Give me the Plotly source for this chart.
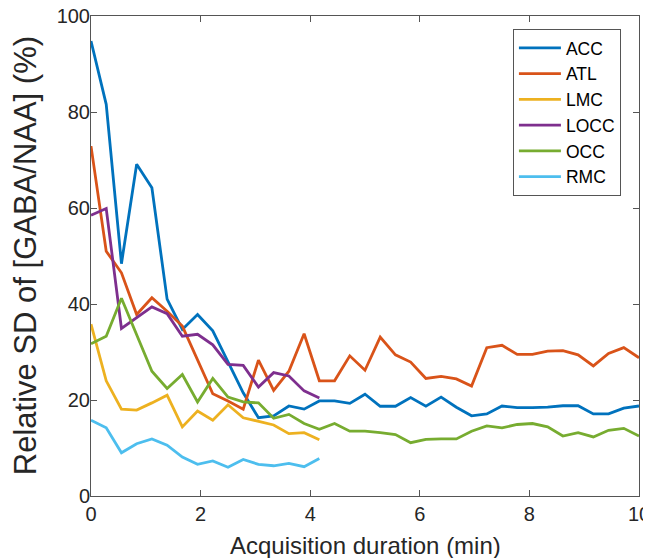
import plotly.graph_objects as go

step = 10 / 36
x_long = [round(i * step, 4) for i in range(37)]
x_short = x_long[:16]

acc = [94.8, 81.6, 48.4, 69.1, 64.2, 41.0, 34.7, 37.8, 34.4, 28.0, 21.5, 16.3, 16.7,
       18.75, 18.1, 19.8, 19.8, 19.3, 21.2, 18.7, 18.7, 20.5, 18.7, 20.6, 18.5, 16.7,
       17.1, 18.75, 18.4, 18.4, 18.5, 18.8, 18.8, 17.1, 17.1, 18.3, 18.75]
atl = [72.9, 51.0, 46.5, 37.8, 41.3, 38.5, 35.4, 28.3, 21.3, 19.8, 18.1, 28.3, 22.0,
       26.0, 33.8, 24.0, 24.0, 29.2, 26.2, 33.1, 29.4, 27.9, 24.5, 24.9, 24.4, 22.9,
       30.9, 31.4, 29.5, 29.5, 30.2, 30.3, 29.4, 27.1, 29.7, 30.9, 28.8]
lmc = [35.8, 24.0, 18.1, 17.9, 19.4, 21.0, 14.4, 17.7, 15.8, 19.0, 16.3, 15.5, 14.8,
       13.0, 13.2, 11.7]
locc = [58.5, 59.9, 34.9, 37.2, 39.4, 38.0, 33.3, 33.7, 31.5, 27.4, 27.2, 22.7, 25.7,
        25.0, 21.9, 20.4]
occ = [31.7, 33.3, 41.2, 33.7, 26.0, 22.4, 25.3, 19.6, 24.5, 20.6, 19.6, 19.4, 16.2,
       17.0, 15.1, 13.9, 15.1, 13.5, 13.5, 13.2, 12.8, 11.1, 11.8, 11.9, 11.9, 13.5,
       14.6, 14.2, 14.9, 15.1, 14.4, 12.5, 13.2, 12.3, 13.7, 14.1, 12.5]
rmc = [15.8, 14.2, 9.0, 10.9, 11.9, 10.6, 8.1, 6.6, 7.3, 6.0, 7.6, 6.6, 6.3,
       6.8, 6.1, 7.8]

x_title = "Acquisition duration (min)"
y_title = "Relative SD of [GABA/NAA] (%)"

series = [
    ("ACC", x_long, acc, "#0072BD"),
    ("ATL", x_long, atl, "#D95319"),
    ("LMC", x_short, lmc, "#EDB120"),
    ("LOCC", x_short, locc, "#7E2F8E"),
    ("OCC", x_long, occ, "#77AC30"),
    ("RMC", x_short, rmc, "#4DBEEE"),
]

fig = go.Figure()
for name, xs, ys, col in series:
    fig.add_trace(go.Scatter(x=xs, y=ys, mode="lines", name=name,
                             line=dict(color=col, width=2.8)))

FONT = "Liberation Sans, Arial"
axis_common = dict(
    showline=True, linecolor="#555555", linewidth=1, mirror="ticks",
    ticks="inside", ticklen=6, tickcolor="#555555", showgrid=False, zeroline=False,
    automargin=False, ticklabeloverflow="allow",
    tickfont=dict(family=FONT, size=20, color="#262626"),
)

fig.update_layout(
    width=651, height=558,
    margin=dict(l=83, r=20, t=8, b=70),
    paper_bgcolor="white", plot_bgcolor="white",
    font=dict(family=FONT, color="#262626"),
    xaxis=dict(range=[0, 10], tickvals=[0, 2, 4, 6, 8, 10], **axis_common),
    yaxis=dict(range=[0, 100], tickvals=[0, 20, 40, 60, 80, 100],
               ticklabelstandoff=-4, **axis_common),
    legend=dict(x=0.967, y=0.973, xanchor="right", yanchor="top",
                bgcolor="white", bordercolor="#555555", borderwidth=1,
                font=dict(size=17.5, color="#000000"), tracegroupgap=0,
                itemwidth=42),
    showlegend=True,
    annotations=[
        dict(text=x_title, xref="paper", yref="paper", x=0.5, y=-0.104,
             xanchor="center", yanchor="middle", showarrow=False,
             font=dict(family=FONT, size=24, color="#262626")),
        dict(text=y_title, xref="paper", yref="paper", x=-0.12, y=0.5,
             xanchor="center", yanchor="middle", textangle=-90, showarrow=False,
             font=dict(family=FONT, size=31, color="#262626")),
    ],
)

fig.write_html("out.html")
